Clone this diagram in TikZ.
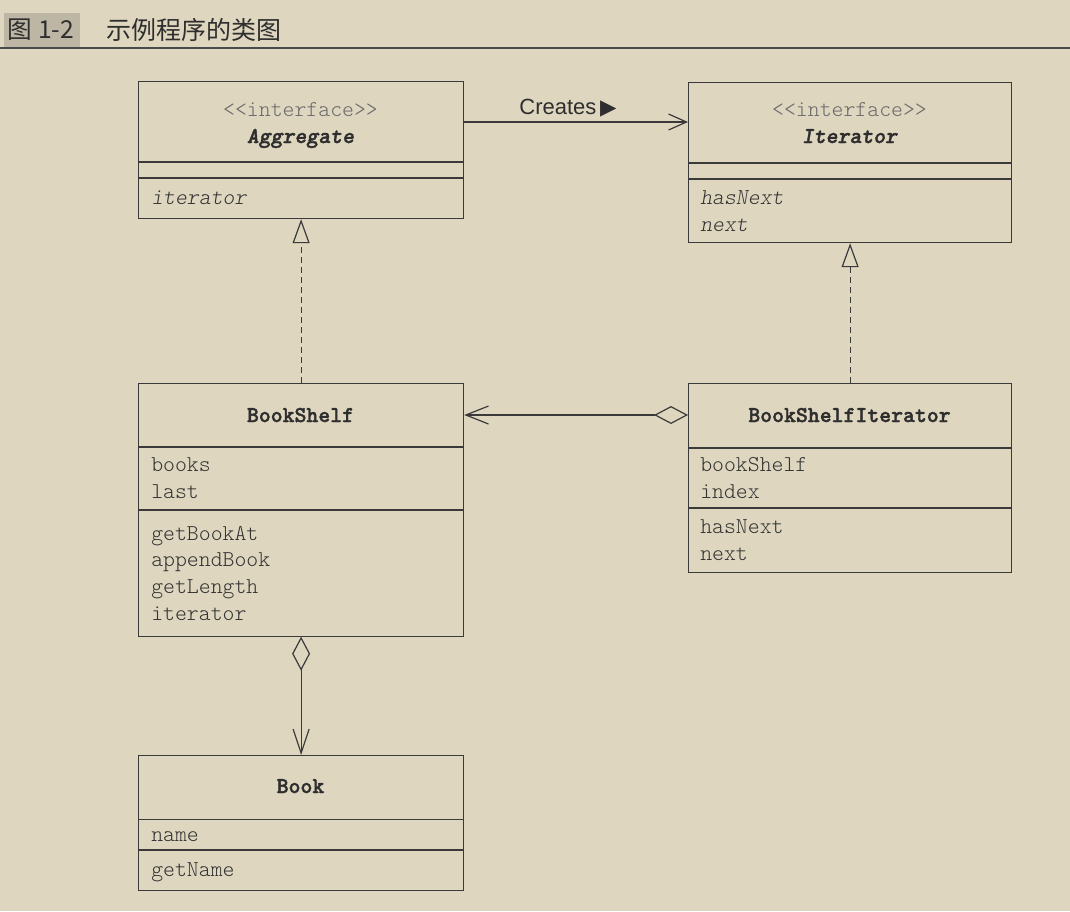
\documentclass[tikz,border=0pt]{standalone}
\usepackage{fontspec}
\usetikzlibrary{arrows.meta}
\newfontfamily\sansf{Liberation Sans}
\newfontfamily\dejav{DejaVu Sans}
\newfontfamily\cjkf{Noto Sans CJK SC}
\newfontfamily\ttdark{lmmonolt10-bold.otf}[FakeBold=1.6]
\newfontfamily\ttdarksl{lmmonolt10-boldoblique.otf}[FakeBold=1.6]
\newcommand\mysz{\fontsize{17}{20}\selectfont}
\definecolor{bgc}{HTML}{DED6BF}
\definecolor{linec}{HTML}{3A3A3A}
\definecolor{attrc}{HTML}{333333}
\definecolor{stc}{HTML}{6A6A6A}
\definecolor{titc}{HTML}{2E2E2E}
\definecolor{grayc}{HTML}{BDB6A4}
\definecolor{hdrc}{HTML}{4A4A4A}
\tikzset{
  umlbox/.style={draw=linec, line width=0.9pt, rectangle, inner sep=0pt, anchor=north west},
  sepline/.style={draw=linec, line width=0.9pt},
  attr/.style={anchor=base west, inner sep=0pt, text=attrc, font=\ttfamily\fontseries{l}\mysz},
  iattr/.style={attr, font=\ttfamily\fontseries{l}\fontshape{sl}\mysz},
  stereo/.style={anchor=base, inner sep=0pt, text=stc, font=\ttfamily\fontseries{l}\mysz},
  ctitle/.style={anchor=base, inner sep=0pt, text=titc, font=\ttdark\mysz},
  ititle/.style={ctitle, font=\ttdarksl\mysz},
  conn/.style={draw=linec, line width=0.9pt},
  realiz/.style={conn, dash pattern=on 4.5pt off 3pt, -{Triangle[open, length=18pt, width=12.75pt, line width=0.9pt]}},
}
\begin{document}
\begin{tikzpicture}[x=0.75pt,y=-0.75pt]
\useasboundingbox (0,0) rectangle (1070,911);
\fill[bgc] (0,0) rectangle (1070,911);
% header
\fill[grayc] (4,13) rectangle (80,47);
\node[inner sep=0pt, font=\cjkf\fontsize{18.5}{22}\selectfont, text=titc] (fignum) at (41,30) {图 1-2};
\node[inner sep=0pt, anchor=west, font=\cjkf\fontsize{18.75}{22}\selectfont, text=titc] (figtitle) at (106,30) {示例程序的类图};
\draw[hdrc, line width=1.4pt] (0,48) -- (1070,48);

% Aggregate
\node[umlbox, minimum width=243.75pt, minimum height=102.75pt] (agg) at (138,81) {};
\draw[sepline] (138,162) -- (463,162);
\draw[sepline] (138,178) -- (463,178);
\node[stereo] (aggst) at (300.5,116.5) {<<interface>>};
\node[ititle] (aggt) at (300.5,143) {Aggregate};
\node[iattr] (agg1) at (151,204) {iterator};

% Iterator
\node[umlbox, minimum width=242.25pt, minimum height=120pt] (itr) at (688,82) {};
\draw[sepline] (688,163) -- (1011,163);
\draw[sepline] (688,179) -- (1011,179);
\node[stereo] (itrst) at (849.5,116.5) {<<interface>>};
\node[ititle] (itrt) at (849.5,143) {Iterator};
\node[iattr] (itr1) at (700,204) {hasNext};
\node[iattr] (itr2) at (700,231) {next};

% BookShelf
\node[umlbox, minimum width=243.75pt, minimum height=189.75pt] (bs) at (138,382.5) {};
\draw[sepline] (138,447) -- (463,447);
\draw[sepline] (138,510) -- (463,510);
\node[ctitle] (bst) at (300.5,422) {BookShelf};
\node[attr] (bs1) at (151,471.5) {books};
\node[attr] (bs2) at (151,498.5) {last};
\node[attr] (bs3) at (151,540) {getBookAt};
\node[attr] (bs4) at (151,566.5) {appendBook};
\node[attr] (bs5) at (151,593) {getLength};
\node[attr] (bs6) at (151,620) {iterator};

% BookShelfIterator
\node[umlbox, minimum width=242.25pt, minimum height=141.75pt] (bsi) at (688,383) {};
\draw[sepline] (688,448) -- (1011,448);
\draw[sepline] (688,508) -- (1011,508);
\node[ctitle] (bsit) at (849.5,422) {BookShelfIterator};
\node[attr] (bsi1) at (700,471) {bookShelf};
\node[attr] (bsi2) at (700,498) {index};
\node[attr] (bsi3) at (700,533.5) {hasNext};
\node[attr] (bsi4) at (700,560) {next};

% Book
\node[umlbox, minimum width=243.75pt, minimum height=101.25pt] (book) at (138,755) {};
\draw[sepline] (138,819.5) -- (463,819.5);
\draw[sepline] (138,850) -- (463,850);
\node[ctitle] (bookt) at (300.5,793) {Book};
\node[attr] (book1) at (151,841.5) {name};
\node[attr] (book2) at (151,876.5) {getName};

% connectors
\coordinate (cy) at (0,122);
\coordinate (hy) at (0,415);
\draw[conn, -{Straight Barb[length=13.5pt, width=12pt, line width=0.9pt]}] (agg.east |- cy) -- (itr.west |- cy);
\node[anchor=base, inner sep=0pt, text=titc, font=\sansf\fontsize{16.5}{20}\selectfont] (creates) at (568,114) {Creates\,{\dejav\fontsize{16}{18}\selectfont ▶}};
\draw[realiz] (bs.north) -- (agg.south);
\draw[realiz] (bsi.north) -- (itr.south);
\draw[conn, {Straight Barb[length=17pt, width=13.5pt, line width=0.9pt]}-{Diamond[open, length=25.5pt, width=13.5pt, line width=0.9pt]}] (bs.east |- hy) -- (bsi.west |- hy);
\draw[conn, {Diamond[open, length=25.5pt, width=13.5pt, line width=0.9pt]}-{Straight Barb[length=18pt, width=12pt, line width=0.9pt]}] (bs.south) -- (book.north);
\end{tikzpicture}
\end{document}
